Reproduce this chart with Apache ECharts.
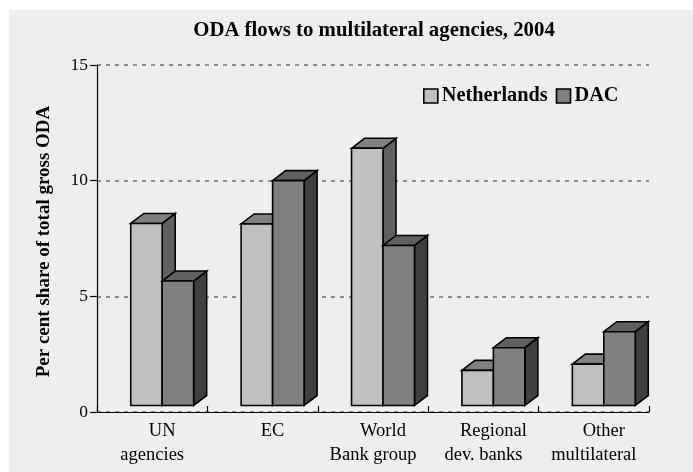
<!DOCTYPE html>
<html><head><meta charset="utf-8">
<style>html,body{margin:0;padding:0;background:#ffffff}#c{width:693px;height:472px}</style>
<script src="https://cdn.jsdelivr.net/npm/echarts@6/dist/echarts.min.js"></script>
</head><body><div id="c"></div>
<script>
const categories = ["UN\nagencies","EC","World\nBank group","Regional\ndev. banks","Other\nmultilateral"];
const netherlands = [8.15,8.13,11.4,1.8,2.07];
const dac = [5.66,10,7.2,2.78,3.47];
const serif = '"Liberation Serif","Times New Roman",serif';
const chart = echarts.init(document.getElementById('c'),null,{renderer:'canvas'});
function bar3d(face,top,side,slot){
  return function(params,api){
    const c=api.coord([api.value(0),api.value(1)]);
    const base=api.coord([api.value(0),0]);
    const band=api.size([1,0])[0];
    const w=band*0.285, dx=13, dy=10, lift=6.5, shift=10;
    const x=c[0]+shift+(slot===0?-w:0), y=c[1], b=base[1]-lift;
    const st={stroke:'#000',lineWidth:1.6,lineJoin:'miter'};
    return {type:'group',children:[
      {type:'polygon',shape:{points:[[x+w,y],[x+w+dx,y-dy],[x+w+dx,b-dy],[x+w,b]]},style:{fill:side,...st}},
      {type:'polygon',shape:{points:[[x,y],[x+dx,y-dy],[x+w+dx,y-dy],[x+w,y]]},style:{fill:top,...st}},
      {type:'rect',shape:{x:x,y:y,width:w,height:b-y},style:{fill:face,...st}}
    ]};
  };
}
chart.setOption({
  animation:false,
  backgroundColor:'#ffffff',
  graphic:[{type:'rect',z:-10,silent:true,shape:{x:9,y:10,width:684,height:462},style:{fill:'#eeeeee'}}],
  title:{text:'ODA flows to multilateral agencies, 2004',left:369,top:15,textAlign:'center',
    textStyle:{fontFamily:serif,fontSize:20.8,fontWeight:'bold',color:'#000'}},
  legend:{left:418,top:81,itemWidth:14,itemHeight:14,itemGap:8,
    textStyle:{fontFamily:serif,fontSize:20.3,fontWeight:'bold',color:'#000',padding:[0,0,0,-1]},
    data:[{name:'Netherlands',icon:'rect',itemStyle:{color:'#c0c0c0',borderColor:'#000',borderWidth:1.6}},
          {name:'DAC',icon:'rect',itemStyle:{color:'#808080',borderColor:'#000',borderWidth:1.6}}]},
  grid:{left:97,right:44,top:65,bottom:60,containLabel:false},
  xAxis:{type:'category',data:categories,
    axisLine:{lineStyle:{color:'#000',width:1.2}},
    axisTick:{show:true,inside:true,length:6,alignWithLabel:false,lineStyle:{color:'#000',width:1.2}},
    axisLabel:{color:'#000',margin:7,lineHeight:24,
      formatter:function(v){
        const p=v.split('\n');
        return '{a|'+p[0]+'}'+(p[1]?'\n{b|'+p[1]+'}':'');
      },
      rich:{a:{fontFamily:serif,fontSize:18.5,lineHeight:24,color:'#000',padding:[0,0,0,20]},
            b:{fontFamily:serif,fontSize:18.5,lineHeight:24,color:'#000'}}}},
  yAxis:{type:'value',min:0,max:15,interval:5,
    name:'Per cent share of total gross ODA',nameLocation:'middle',nameGap:43,
    nameTextStyle:{fontFamily:serif,fontSize:19,fontWeight:'bold',color:'#000',padding:[0,6,0,0]},
    axisLine:{show:true,lineStyle:{color:'#000',width:1.2}},
    axisTick:{show:true,length:7,lineStyle:{color:'#000',width:1.2}},
    axisLabel:{fontFamily:serif,fontSize:17.5,color:'#000',margin:9},
    splitLine:{show:true,lineStyle:{color:'#707070',type:[4,5],width:1.5}}},
  series:[
    {name:'Netherlands',type:'custom',data:netherlands.map((v,i)=>[i,v]),encode:{x:0,y:1},
      itemStyle:{color:'#c0c0c0'},z:2,renderItem:bar3d('#c0c0c0','#808080','#606060',0)},
    {name:'DAC',type:'custom',data:dac.map((v,i)=>[i,v]),encode:{x:0,y:1},
      itemStyle:{color:'#808080'},z:3,renderItem:bar3d('#808080','#606060','#404040',1)}
  ]
});
</script></body></html>
